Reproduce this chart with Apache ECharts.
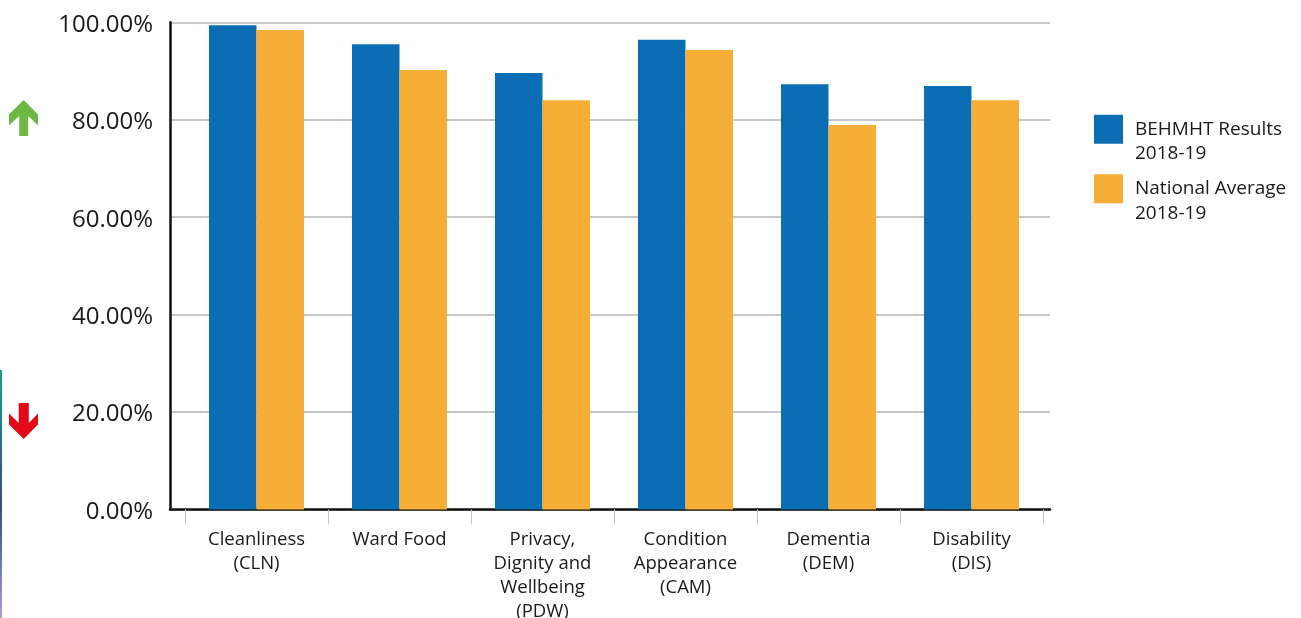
<!DOCTYPE html>
<html>
<head>
<meta charset="utf-8">
<title>PLACE Assessment Results 2018-19</title>
<script src="https://cdn.jsdelivr.net/npm/echarts@6/dist/echarts.min.js"></script>
<style>
  html, body { margin: 0; padding: 0; background: #ffffff; }
  #chart { width: 1301px; height: 618px; }
</style>
</head>
<body>
<div id="chart"></div>
<script>
// Assessment domains (x axis)
const categories = [
  'Cleanliness\n(CLN)',
  'Ward Food',
  'Privacy,\nDignity and\nWellbeing\n(PDW)',
  'Condition\nAppearance\n(CAM)',
  'Dementia\n(DEM)',
  'Disability\n(DIS)'
];

// Scores in percent
const trustResults = [99.4, 95.5, 89.6, 96.4, 87.3, 86.9];
const nationalAverage = [98.4, 90.2, 84.0, 94.3, 78.9, 84.0];

const seriesNames = ['BEHMHT Results\n2018-19', 'National Average\n2018-19'];
const yTicks = [0, 20, 40, 60, 80, 100];

const FONT = '"Open Sans", "Noto Sans", sans-serif';
const BLUE = '#0b6eb5';
const ORANGE = '#f7ae37';

const chart = echarts.init(document.getElementById('chart'), null, { renderer: 'canvas' });

// Up / down indicator arrows at the left margin
function arrowUp(x, y, color) {
  return {
    type: 'polygon',
    shape: {
      points: [
        [x + 14.7, y], [x + 29, y + 14.5], [x + 29, y + 25.5], [x + 19.2, y + 16],
        [x + 19.2, y + 36], [x + 10.2, y + 36], [x + 10.2, y + 16], [x, y + 25.5], [x, y + 14.5]
      ]
    },
    style: { fill: color }
  };
}
function arrowDown(x, y, color) {
  return {
    type: 'polygon',
    shape: {
      points: [
        [x + 14.7, y + 36], [x + 29, y + 21.5], [x + 29, y + 10.5], [x + 19.8, y + 20],
        [x + 19.8, y], [x + 9.7, y], [x + 9.7, y + 20], [x, y + 10.5], [x, y + 21.5]
      ]
    },
    style: { fill: color }
  };
}

const option = {
  backgroundColor: '#ffffff',
  animation: false,
  textStyle: { fontFamily: FONT },
  grid: [
    { left: 170, top: 22.3, width: 880, height: 487.2, containLabel: false, outerBoundsMode: 'none' },
    { left: 185, top: 22.3, width: 858, height: 487.2, containLabel: false, outerBoundsMode: 'none' }
  ],
  xAxis: [
    {
      gridIndex: 0,
      type: 'category',
      data: categories,
      axisLine: { show: true, lineStyle: { color: '#111111', width: 2.5 } },
      axisTick: { show: false },
      axisLabel: { show: false },
      splitLine: { show: false }
    },
    {
      gridIndex: 1,
      type: 'category',
      data: categories,
      axisLine: { show: false },
      axisTick: { show: true, length: 15, lineStyle: { color: '#c4c4c4', width: 1 } },
      axisLabel: {
        interval: 0,
        margin: 18,
        color: '#1a1a1a',
        fontSize: 18.5,
        lineHeight: 24,
        fontFamily: FONT,
        align: 'center'
      },
      splitLine: { show: false }
    }
  ],
  yAxis: [
    {
      gridIndex: 0,
      type: 'value',
      min: yTicks[0],
      max: yTicks[yTicks.length - 1],
      interval: 20,
      axisLine: { show: true, lineStyle: { color: '#111111', width: 2.5 } },
      axisTick: { show: false },
      axisLabel: {
        margin: 17,
        color: '#1a1a1a',
        fontSize: 24,
        fontFamily: FONT,
        verticalAlign: 'top',
        lineHeight: 5,
        formatter: v => v.toFixed(2) + '%'
      },
      splitLine: { show: true, lineStyle: { color: '#b4b4b4', width: 1.5 } }
    },
    {
      gridIndex: 1,
      type: 'value',
      min: 0,
      max: 100,
      show: false
    }
  ],
  legend: {
    orient: 'vertical',
    left: 1094,
    top: 92.5,
    padding: 0,
    itemWidth: 29,
    itemHeight: 29,
    itemGap: -14,
    icon: 'rect',
    data: seriesNames,
    // leading blank line lets the two-line label hang from the swatch's top edge
    formatter: '\n{name}',
    textStyle: {
      color: '#1a1a1a',
      fontSize: 19,
      lineHeight: 24.5,
      fontFamily: FONT,
      padding: [0, 0, 0, 7]
    }
  },
  series: [
    {
      name: seriesNames[0],
      type: 'bar',
      xAxisIndex: 1,
      yAxisIndex: 1,
      data: trustResults,
      barWidth: 47.5,
      barGap: '0%',
      itemStyle: { color: BLUE }
    },
    {
      name: seriesNames[1],
      type: 'bar',
      xAxisIndex: 1,
      yAxisIndex: 1,
      data: nationalAverage,
      barWidth: 47.5,
      barGap: '0%',
      itemStyle: { color: ORANGE }
    }
  ],
  graphic: [
    arrowUp(9, 100, '#6db844'),
    arrowDown(9, 403, '#e30a17'),
    {
      type: 'rect',
      shape: { x: 0, y: 370, width: 2, height: 248 },
      style: {
        fill: {
          type: 'linear', x: 0, y: 0, x2: 0, y2: 1,
          colorStops: [
            { offset: 0, color: '#16a08c' },
            { offset: 0.3, color: '#2a6f8e' },
            { offset: 0.55, color: '#3b4c8c' },
            { offset: 1, color: '#a3a1d3' }
          ]
        }
      }
    }
  ]
};

chart.setOption(option);
</script>
</body>
</html>
